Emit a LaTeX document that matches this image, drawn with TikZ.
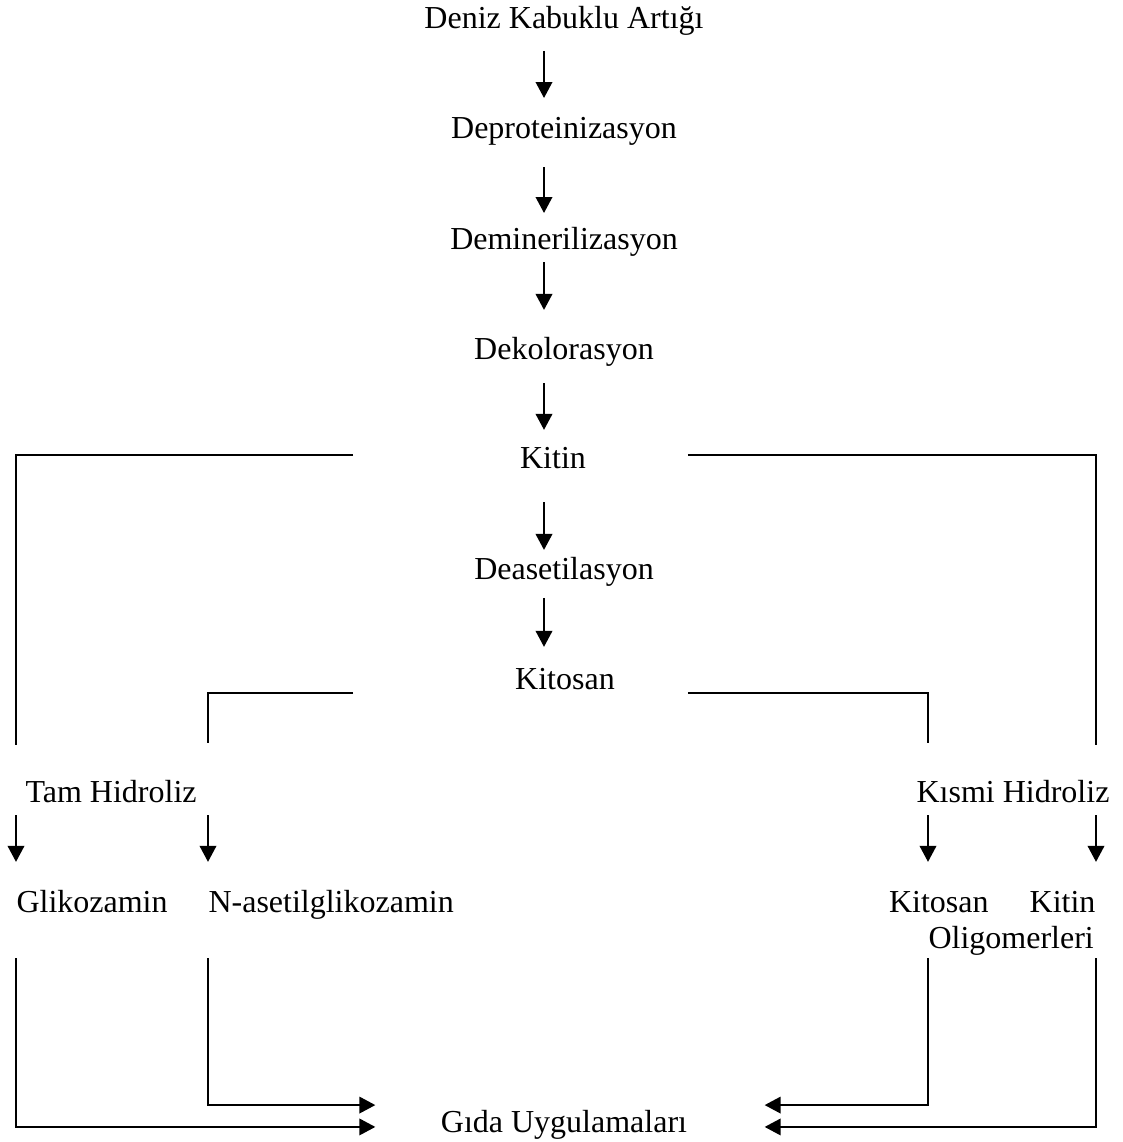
\documentclass[tikz,border=0pt]{standalone}
\usepackage{fontspec}
\setmainfont{Liberation Serif}
\usetikzlibrary{arrows.meta}
\begin{document}
\begin{tikzpicture}[
        x=0.375pt, y=-0.375pt,
        every node/.style={font=\fontsize{12pt}{14pt}\selectfont, inner sep=0pt, anchor=base},
        ln/.style={line width=0.75pt},
        ok/.style={ln, -{Triangle[length=6pt, width=6.2pt]}},
    ]
    \useasboundingbox (0,0) rectangle (1122,1142);
    \coordinate (spine) at (544,0);

    \node (deniz) at (564,28) {Deniz Kabuklu Artığı};
    \node (deprot) at (564,138) {Deproteinizasyon};
    \node (demin) at (564,249) {Deminerilizasyon};
    \node (dekol) at (564,359) {Dekolorasyon};
    \node (kitin) at (553,468) {Kitin};
    \node (deaset) at (564,579) {Deasetilasyon};
    \node (kitosan) at (565,689) {Kitosan};
    \node[anchor=base west] (tam) at (25,802) {Tam Hidroliz};
    \node[anchor=base east] (kismi) at (1110,802) {Kısmi Hidroliz};
    \node[anchor=base west] (gliko) at (16,912) {Glikozamin};
    \node[anchor=base west] (nasetil) at (208,912) {N-asetilglikozamin};
    \node[anchor=base east] (kko) at (1096,912) {Kitosan\hspace{15.4pt}Kitin};
    \node[anchor=base west] (oligo) at (928,948) {Oligomerleri};
    \node (gida) at (564,1132) {Gıda Uygulamaları};

    \draw[ok] ([yshift=-8.6pt]deniz.base -| spine) -- ([yshift=15pt]deprot.base -| spine);
    \draw[ok] ([yshift=-10.9pt]deprot.base -| spine) -- ([yshift=13.5pt]demin.base -| spine);
    \draw[ok] ([yshift=-4.9pt]demin.base -| spine) -- ([yshift=18.4pt]dekol.base -| spine);
    \draw[ok] ([yshift=-9pt]dekol.base -| spine) -- ([yshift=14.3pt]kitin.base -| spine);
    \draw[ok] ([yshift=-12.8pt]kitin.base -| spine) -- ([yshift=10.9pt]deaset.base -| spine);
    \draw[ok] ([yshift=-7.1pt]deaset.base -| spine) -- ([yshift=15.8pt]kitosan.base -| spine);

    \draw[ln] ([shift={(-75pt,4.9pt)}]kitin.base) -| ([yshift=21.4pt]tam.base -| gliko.base west);
    \draw[ln] ([shift={(50.6pt,4.9pt)}]kitin.base) -| ([yshift=21.4pt]kismi.base -| kko.base east);
    \draw[ln] ([shift={(-79.5pt,-1.5pt)}]kitosan.base) -| ([yshift=22.1pt]tam.base -| nasetil.base west);
    \draw[ln] ([shift={(46.1pt,-1.5pt)}]kitosan.base) -| ([yshift=22.1pt]kismi.base -| oligo.base west);

    \draw[ok] ([yshift=-4.9pt]tam.base -| gliko.base west) -- ([yshift=18.8pt]gliko.base west);
    \draw[ok] ([yshift=-4.9pt]tam.base -| nasetil.base west) -- ([yshift=18.8pt]nasetil.base west);
    \draw[ok] ([yshift=-4.9pt]kismi.base -| oligo.base west) -- ([yshift=18.8pt]kko.base -| oligo.base west);
    \draw[ok] ([yshift=-4.9pt]kismi.base -| kko.base east) -- ([yshift=18.8pt]kko.base east);

    \draw[ok] ([yshift=-17.25pt]gliko.base west) |- ([shift={(-24.4pt,1.9pt)}]gida.base west);
    \draw[ok] ([yshift=-17.25pt]nasetil.base west) |- ([shift={(-24.4pt,10.1pt)}]gida.base west);
    \draw[ok] ([yshift=-3.75pt]oligo.base west) |- ([shift={(28.9pt,10.1pt)}]gida.base east);
    \draw[ok] ([yshift=-3.75pt]oligo.base -| kko.base east) |- ([shift={(28.9pt,1.9pt)}]gida.base east);
\end{tikzpicture}
\end{document}
